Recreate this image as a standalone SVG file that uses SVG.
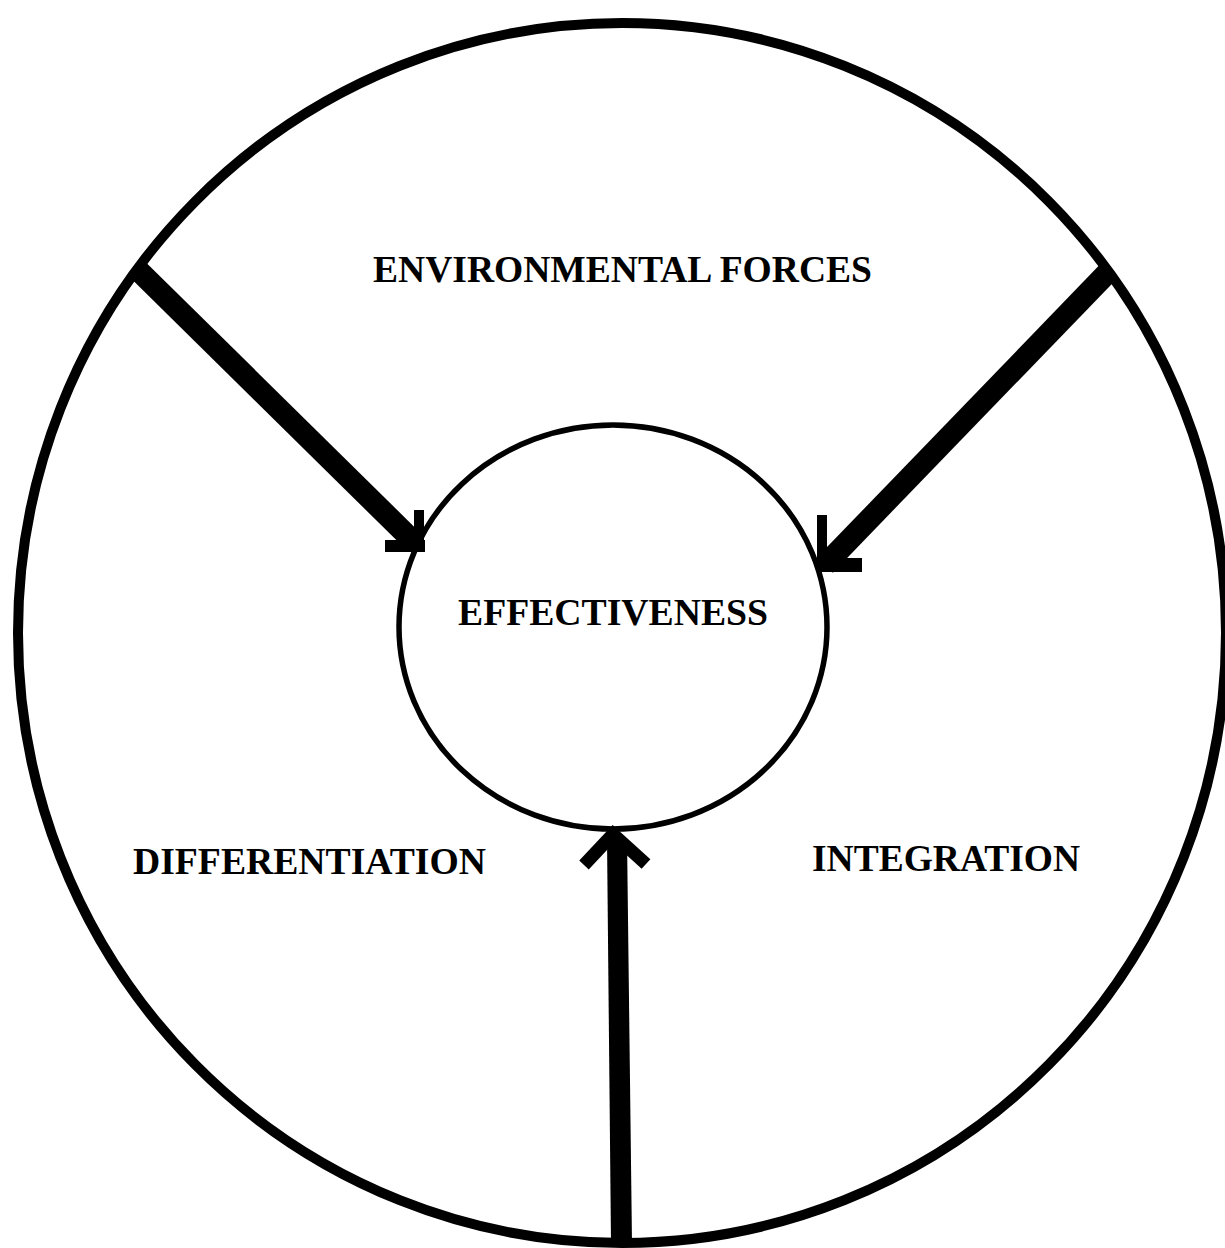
<svg xmlns="http://www.w3.org/2000/svg" width="1225" height="1248" viewBox="0 0 1225 1248">
<style>
.lbl{font-family:"Liberation Serif","Times New Roman",serif;font-weight:bold;font-size:38px;fill:#000}
.ring{fill:none;stroke:#000}
.shaft{stroke:#000;stroke-width:22;fill:none}
</style>
<rect width="1225" height="1248" fill="#fff"/>
<g id="outer">
<ellipse class="ring" cx="622" cy="633" rx="604" ry="610" stroke-width="10"/>
<text class="lbl" x="373" y="282" textLength="499" lengthAdjust="spacingAndGlyphs">ENVIRONMENTAL FORCES</text>
</g>
<g id="differentiation">
<text class="lbl" x="133" y="874" textLength="353" lengthAdjust="spacingAndGlyphs">DIFFERENTIATION</text>
</g>
<g id="integration">
<text class="lbl" x="812" y="871" textLength="268" lengthAdjust="spacingAndGlyphs">INTEGRATION</text>
</g>
<g id="effectiveness">
<ellipse class="ring" cx="613" cy="627" rx="214" ry="202" stroke-width="5.5"/>
<text class="lbl" x="458" y="625" textLength="310" lengthAdjust="spacingAndGlyphs">EFFECTIVENESS</text>
</g>
<g id="connectors">
<line class="shaft" x1="138" y1="270" x2="416" y2="544"/>
<rect x="414" y="510" width="10" height="42" fill="#000"/>
<rect x="385" y="540" width="40" height="12" fill="#000"/>
<line class="shaft" x1="1110" y1="270" x2="825" y2="565"/>
<rect x="817" y="515" width="10" height="57" fill="#000"/>
<rect x="817" y="558" width="45" height="14" fill="#000"/>
<polygon points="611,1243 632,1243 627,838 607,838" fill="#000"/>
<polyline points="584,865 613,834 646,864" fill="none" stroke="#000" stroke-width="13" stroke-linejoin="miter"/>
</g>
</svg>
